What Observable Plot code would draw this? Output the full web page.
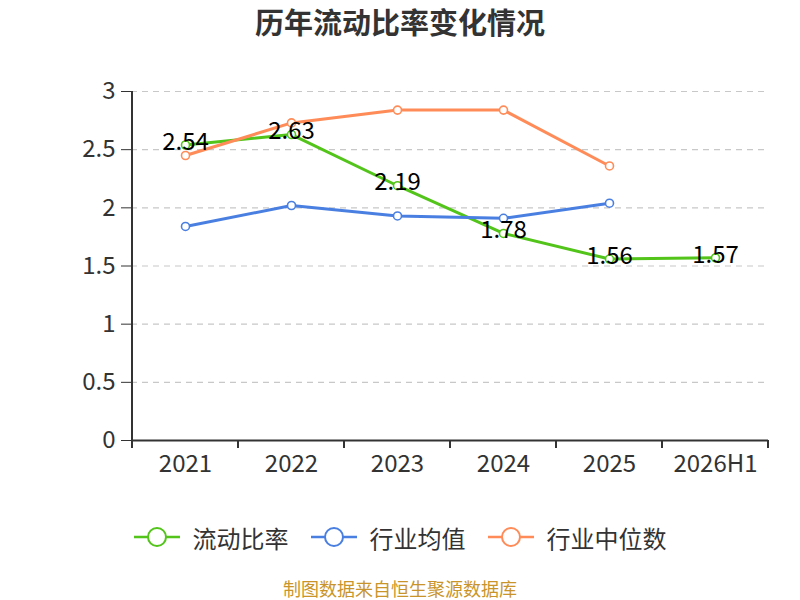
<!DOCTYPE html>
<html><head><meta charset="utf-8">
<script src="https://cdn.jsdelivr.net/npm/d3@7"></script>
<script src="https://cdn.jsdelivr.net/npm/@observablehq/plot@0.6"></script>
<style>
body{margin:0;width:800px;height:600px;background:#fff;font-family:"Noto Sans CJK SC","Noto Sans",sans-serif;position:relative;overflow:hidden}
#title{position:absolute;top:-2px;left:0;width:800px;height:46px;line-height:46px;text-align:center;font-size:29px;font-weight:bold;color:#333}
#chart{position:absolute;top:60px;left:0}
#legend{position:absolute;top:520px;left:0;width:800px;height:34px;display:flex;justify-content:center;align-items:center;font-size:24px;color:#333}
.item{display:flex;align-items:center;margin:0 11px}
.item svg{margin-right:13px}
#source{position:absolute;top:576px;left:0;width:800px;text-align:center;font-size:18px;line-height:24px;color:#c9952b}
</style></head>
<body>
<div id="title">历年流动比率变化情况</div>
<div id="chart"></div>
<div id="legend"></div>
<div id="source">制图数据来自恒生聚源数据库</div>
<script>
const categories = ["2021","2022","2023","2024","2025","2026H1"];
const ratio = [2.54, 2.63, 2.19, 1.78, 1.56, 1.57];
const industryMean = [1.84, 2.02, 1.93, 1.91, 2.04];
const industryMedian = [2.45, 2.73, 2.84, 2.84, 2.36];
const yTicks = [0, 0.5, 1, 1.5, 2, 2.5, 3];
const seriesNames = ["流动比率", "行业均值", "行业中位数"];
const colors = ["#52c41a", "#4a7fe2", "#ff8c58"];

const toRows = (vals, s) => vals.map((v, i) => ({x: categories[i], y: v, s}));
const rows = [toRows(ratio, seriesNames[0]), toRows(industryMean, seriesNames[1]), toRows(industryMedian, seriesNames[2])];
const font = '"Noto Sans CJK SC","Noto Sans",sans-serif';

const marks = [
  Plot.gridY(yTicks.filter(d => d > 0), {stroke: "#c8c8c8", strokeOpacity: 1, strokeDasharray: "6,5", strokeWidth: 1.2}),
  Plot.axisY(yTicks, {tickSize: 10, tickPadding: 6, fontSize: 24, fill: "#333", stroke: "#333", label: null, tickFormat: d => String(d)}),
  Plot.axisX({tickSize: 0, tickPadding: 14, fontSize: 24, fill: "#333", label: null}),
  Plot.ruleY([0], {stroke: "#333", strokeWidth: 2})
];
rows.forEach((r, i) => {
  marks.push(Plot.line(r, {x: "x", y: "y", stroke: colors[i], strokeWidth: 3}));
  marks.push(Plot.dot(r, {x: "x", y: "y", r: 4, fill: "#fff", stroke: colors[i], strokeWidth: 1.6}));
});
marks.push(Plot.text(rows[0], {x: "x", y: "y", text: d => d.y.toFixed(2), fontSize: 24, fill: "#000", dy: -3}));

const chart = Plot.plot({
  width: 800, height: 420,
  marginTop: 31, marginBottom: 40, marginLeft: 131, marginRight: 32,
  style: {fontFamily: font, background: "transparent", overflow: "visible"},
  x: {type: "band", domain: categories, padding: 0},
  y: {domain: [0, 3]},
  marks
});
document.getElementById("chart").appendChild(chart);

// y axis line and boundary ticks on x axis, positioned from Plot's scales
const xs = chart.scale("x");
const ys = chart.scale("y");
const svg = d3.select(chart);
const y0 = ys.apply(0), y3 = ys.apply(3);
const left = xs.apply(categories[0]);
const bounds = categories.map(c => xs.apply(c)).concat([xs.apply(categories[categories.length - 1]) + xs.bandwidth]);
const g = svg.append("g");
g.append("line").attr("x1", left).attr("x2", left).attr("y1", y3).attr("y2", y0).attr("stroke", "#333").attr("stroke-width", 2);
bounds.forEach(b => g.append("line").attr("x1", b).attr("x2", b).attr("y1", y0).attr("y2", y0 + 8).attr("stroke", "#333").attr("stroke-width", 2));
svg.selectAll("g[aria-label='line'], g[aria-label='dot'], g[aria-label='text']").raise();

// legend
const legend = d3.select("#legend");
seriesNames.forEach((n, i) => {
  const it = legend.append("div").attr("class", "item");
  const s = it.append("svg").attr("width", 46).attr("height", 24);
  s.append("line").attr("x1", 0).attr("x2", 46).attr("y1", 12).attr("y2", 12).attr("stroke", colors[i]).attr("stroke-width", 2.5);
  s.append("circle").attr("cx", 23).attr("cy", 12).attr("r", 9).attr("fill", "#fff").attr("stroke", colors[i]).attr("stroke-width", 2);
  it.append("span").text(n);
});
</script>
</body></html>
